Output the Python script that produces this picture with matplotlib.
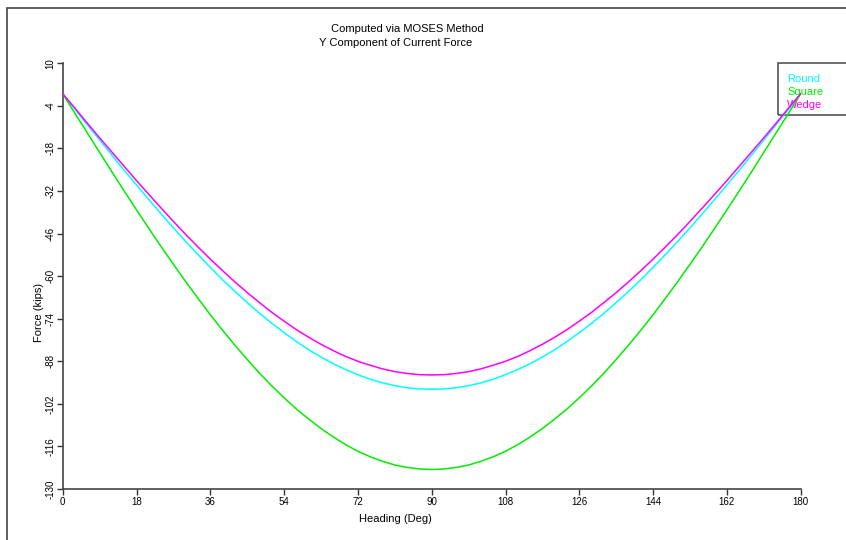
import matplotlib.pyplot as plt
from matplotlib.patches import Rectangle

plt.rcParams['font.family'] = ['Liberation Sans', 'DejaVu Sans']

# heading in degrees, every 3 deg
heading = list(range(0, 181, 3))

# 0..90 deg, kips
half_wedge = [0.0, -4.8, -9.7, -14.5, -19.2, -23.9, -28.6, -33.1, -37.6, -42.0,
              -46.3, -50.4, -54.4, -58.2, -61.9, -65.4, -68.7, -71.9, -74.8, -77.6,
              -80.1, -82.4, -84.5, -86.4, -88.0, -89.3, -90.5, -91.4, -92.0, -92.4, -92.5]
half_round = [0.0, -5.1, -10.2, -15.2, -20.2, -25.2, -30.0, -34.8, -39.5, -44.1,
              -48.6, -52.9, -57.1, -61.2, -65.0, -68.7, -72.2, -75.5, -78.6, -81.5,
              -84.2, -86.6, -88.8, -90.7, -92.4, -93.9, -95.1, -96.0, -96.7, -97.1, -97.2]
half_square = [0.0, -6.5, -12.9, -19.3, -25.7, -32.0, -38.2, -44.3, -50.3, -56.1,
               -61.8, -67.3, -72.7, -77.8, -82.7, -87.4, -91.9, -96.1, -100.0, -103.7,
               -107.0, -110.1, -112.9, -115.4, -117.6, -119.4, -120.9, -122.1, -122.9, -123.4, -123.6]

# force is symmetric about 90 deg
wedge = half_wedge + half_wedge[-2::-1]
round_ = half_round + half_round[-2::-1]
square = half_square + half_square[-2::-1]

names = ["Round", "Square", "Wedge"]
colors = ["#00FFFF", "#00EE00", "#FF00FF"]
series = [round_, square, wedge]

xticks = list(range(0, 181, 18))
yticks = list(range(10, -131, -14))

W, H = 846, 540
fig = plt.figure(figsize=(W / 100, H / 100), dpi=100)
ax = fig.add_axes([62.7 / W, 1 - 489 / H, 738 / W, (489 - 63.3) / H])

for vals, c in zip(series, colors):
    ax.plot(heading, vals, color=c, lw=1.1, zorder=3)

ax.set_xlim(0, 180)
ax.set_ylim(-130, 10)
ax.set_xticks(xticks)
ax.set_yticks(yticks)
ax.set_xticklabels([str(t) for t in xticks], fontsize=7)
ax.set_yticklabels([str(t) for t in yticks], fontsize=7, rotation=90, va='center')
ax.tick_params(length=4, width=1, color='#333333', pad=2)
ax.tick_params(axis='y', pad=1)
for s in ['top', 'right']:
    ax.spines[s].set_visible(False)
for s in ['left', 'bottom']:
    ax.spines[s].set_color('#444444')
    ax.spines[s].set_linewidth(1.2)

ft = fig.transFigure
fig.text(407 / W, 1 - 29 / H, "Computed via MOSES Method", ha='center', va='center', fontsize=8)
fig.text(396 / W, 1 - 43 / H, "Y Component of Current Force", ha='center', va='center', fontsize=8)
fig.text(395 / W, 1 - 519 / H, "Heading (Deg)", ha='center', va='center', fontsize=8)
fig.text(39 / W, 1 - 312 / H, "Force (kips)", ha='center', va='center', fontsize=8, rotation=90)

# legend box, runs off the right edge
ax.add_patch(Rectangle((778 / W, 1 - 115 / H), 120 / W, 52 / H, transform=ft,
                       fill=False, ec='#555555', lw=1.2, clip_on=False, zorder=2))
for i, (n, c) in enumerate(zip(names, colors)):
    ax.text(787 / W, 1 - (78.5 + 13 * i) / H, n, color=c, transform=ft,
            ha='left', va='center', fontsize=8, zorder=2)

# outer frame
fig.patches.append(Rectangle((7 / W, -0.1), 1.2, 1 - 8 / H + 0.1, transform=ft,
                             fill=False, ec='#444444', lw=1.2, figure=fig))

fig.savefig("out.png", dpi=100)
